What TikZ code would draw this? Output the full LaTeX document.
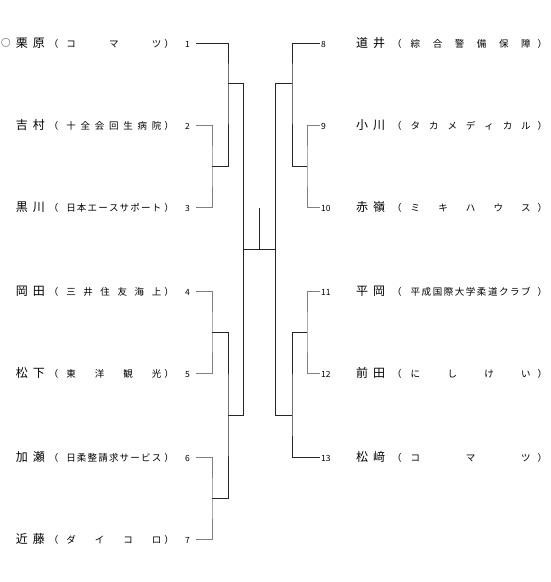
\documentclass[tikz,border=0pt]{standalone}
\usepackage{fontspec}
\setmainfont{Noto Sans CJK JP}
\usetikzlibrary{positioning,calc}
\newcommand{\namefont}{\fontsize{12}{14}\selectfont}
\newcommand{\subfont}{\fontsize{9.5}{11}\selectfont}
\newcommand{\numfont}{\fontsize{8.5}{10}\selectfont}
% left / right entry: name, spread club name, seed number
\newcommand{\lentry}[4]{{\namefont\makebox[29pt][s]{#1\hfill#2}}\hspace{4pt}{\subfont （\hspace{8pt}\makebox[95pt][s]{#3}\hspace{3pt}）}\makebox[16pt][r]{\numfont #4}}
\newcommand{\rentry}[4]{\makebox[35pt][l]{\numfont #4}{\namefont\makebox[29pt][s]{#1\hfill#2}}\hspace{7pt}{\subfont （\hspace{9pt}\makebox[120pt][s]{#3}\hspace{7pt}）}}
\tikzset{
	entryL/.style={anchor=east, inner xsep=6pt, inner ysep=1pt},
	entryR/.style={anchor=west, inner xsep=1pt, inner ysep=1pt},
	pairln/.style={draw=black!50, line width=0.8pt},
	roundln/.style={draw=black!85, line width=0.8pt}
}
\begin{document}
\begin{tikzpicture}[x=1pt,y=-1pt]
	\useasboundingbox (0,0) rectangle (550,582);
	% entries, left half
	\node[inner sep=0pt] (mark) at (6,43) {\fontsize{9.5}{12}\selectfont ○};
	\node[entryL] (p1) at (196,43) {\lentry{栗}{原}{コ\hfill マ\hfill ツ}{1}};
	\node[entryL] (p2) at (196,125) {\lentry{吉}{村}{十\hfill 全\hfill 会\hfill 回\hfill 生\hfill 病\hfill 院}{2}};
	\node[entryL] (p3) at (196,207) {\lentry{黒}{川}{日\hfill 本\hfill エ\hfill ー\hfill ス\hfill サ\hfill ポ\hfill ー\hfill ト}{3}};
	\node[entryL] (p4) at (196,291) {\lentry{岡}{田}{三\hfill 井\hfill 住\hfill 友\hfill 海\hfill 上}{4}};
	\node[entryL] (p5) at (196,373) {\lentry{松}{下}{東\hfill 洋\hfill 観\hfill 光}{5}};
	\node[entryL] (p6) at (196,457) {\lentry{加}{瀬}{日\hfill 柔\hfill 整\hfill 請\hfill 求\hfill サ\hfill ー\hfill ビ\hfill ス}{6}};
	\node[entryL] (p7) at (196,539) {\lentry{近}{藤}{ダ\hfill イ\hfill コ\hfill ロ}{7}};
	% entries, right half
	\node[entryR] (p8) at (320,43) {\rentry{道}{井}{綜\hfill 合\hfill 警\hfill 備\hfill 保\hfill 障}{8}};
	\node[entryR] (p9) at (320,125) {\rentry{小}{川}{タ\hfill カ\hfill メ\hfill デ\hfill ィ\hfill カ\hfill ル}{9}};
	\node[entryR] (p10) at (320,207) {\rentry{赤}{嶺}{ミ\hfill キ\hfill ハ\hfill ウ\hfill ス}{10}};
	\node[entryR] (p11) at (320,291) {\rentry{平}{岡}{平\hfill 成\hfill 国\hfill 際\hfill 大\hfill 学\hfill 柔\hfill 道\hfill ク\hfill ラ\hfill ブ}{11}};
	\node[entryR] (p12) at (320,373) {\rentry{前}{田}{に\hfill し\hfill け\hfill い}{12}};
	\node[entryR] (p13) at (320,457) {\rentry{松}{﨑}{コ\hfill マ\hfill ツ}{13}};
	% junctions
	\coordinate (j23) at (212,166);
	\coordinate (j45) at (212,332);
	\coordinate (j67) at (212,498);
	\coordinate (k1) at (228,83);
	\coordinate (k2) at (228,415);
	\coordinate (s1) at (243,83);
	\coordinate (s2) at (243,415);
	\coordinate (fl) at (243,249);
	\coordinate (fr) at (275,249);
	\coordinate (fm) at (259,249);
	\coordinate (top) at (259,208);
	\coordinate (j910) at (307,166);
	\coordinate (j1112) at (307,332);
	\coordinate (m1) at (292,83);
	\coordinate (m2) at (292,415);
	\coordinate (t1) at (275,83);
	\coordinate (t2) at (275,415);
	% first round
	\draw[pairln] (p2.east) -| (j23) |- (p3.east);
	\draw[pairln] (p4.east) -| (j45) |- (p5.east);
	\draw[pairln] (p6.east) -| (j67) |- (p7.east);
	\draw[pairln] (p9.west) -| (j910) |- (p10.west);
	\draw[pairln] (p11.west) -| (j1112) |- (p12.west);
	% later rounds
	\draw[roundln] (p1.east) -| (k1) |- (j23);
	\draw[roundln] (j45) -| (k2) |- (j67);
	\draw[roundln] (k1) -- (s1) -- (s2) -- (k2);
	\draw[roundln] (p8.west) -| (m1) |- (j910);
	\draw[roundln] (j1112) -| (m2) |- (p13.west);
	\draw[roundln] (m1) -- (t1) -- (t2) -- (m2);
	\draw[roundln] (fl) -- (fr);
	\draw[roundln] (fm) -- (top);
\end{tikzpicture}
\end{document}
